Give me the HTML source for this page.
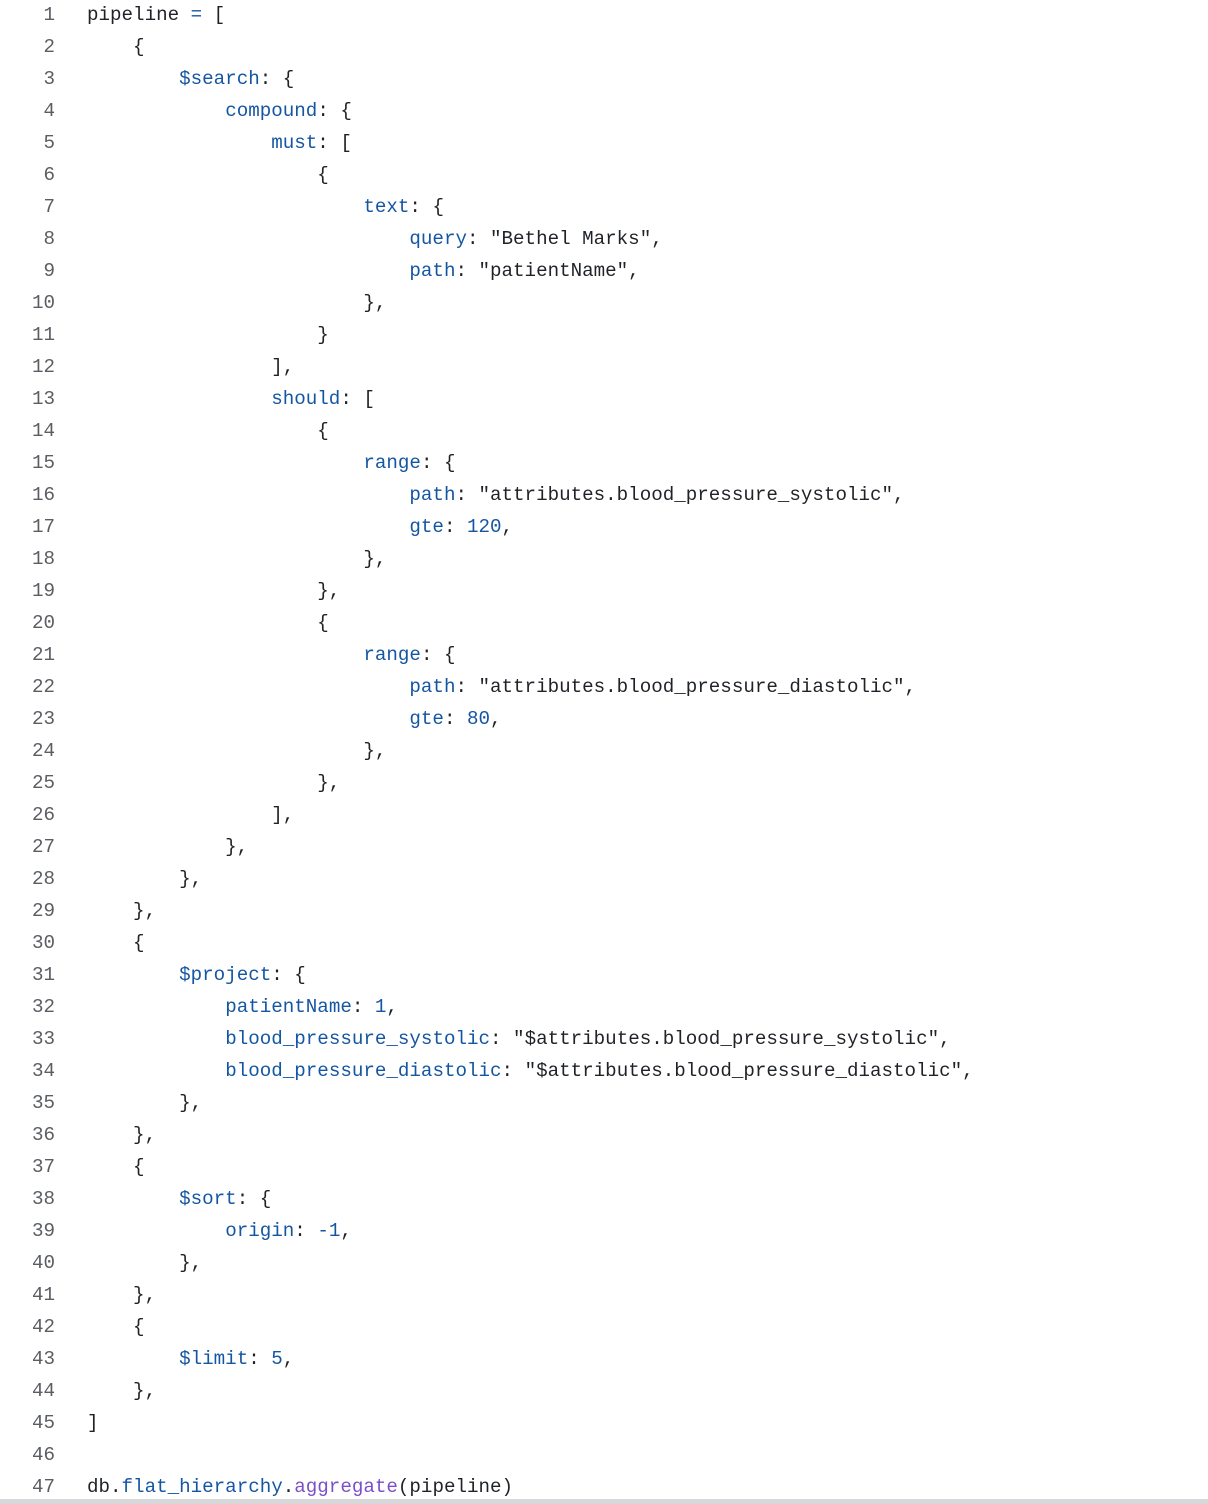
<!DOCTYPE html>
<html><head><meta charset="utf-8"><style>
html,body{margin:0;padding:0;background:#fff;width:1208px;height:1504px;overflow:hidden;position:relative}
.w{position:absolute;top:-1px;left:0;font-family:"Liberation Mono",monospace;font-size:19.2px;line-height:32px;color:#1f2328}
.l{height:32px;white-space:pre;position:relative}
.n{position:absolute;left:0;width:55px;text-align:right;color:#5a5e63}
.c{position:absolute;left:87px}
.k{color:#1556a3}.p{color:#7b4fc9}
.bar{position:absolute;left:0;top:1499px;width:1208px;height:5px;background:#d8d8da}
</style></head><body>
<div class="w">
<div class="l"><span class="n">1</span><span class="c">pipeline <span class="k">=</span> [</span></div>
<div class="l"><span class="n">2</span><span class="c">    {</span></div>
<div class="l"><span class="n">3</span><span class="c">        <span class="k">$search</span>: {</span></div>
<div class="l"><span class="n">4</span><span class="c">            <span class="k">compound</span>: {</span></div>
<div class="l"><span class="n">5</span><span class="c">                <span class="k">must</span>: [</span></div>
<div class="l"><span class="n">6</span><span class="c">                    {</span></div>
<div class="l"><span class="n">7</span><span class="c">                        <span class="k">text</span>: {</span></div>
<div class="l"><span class="n">8</span><span class="c">                            <span class="k">query</span>: "Bethel Marks",</span></div>
<div class="l"><span class="n">9</span><span class="c">                            <span class="k">path</span>: "patientName",</span></div>
<div class="l"><span class="n">10</span><span class="c">                        },</span></div>
<div class="l"><span class="n">11</span><span class="c">                    }</span></div>
<div class="l"><span class="n">12</span><span class="c">                ],</span></div>
<div class="l"><span class="n">13</span><span class="c">                <span class="k">should</span>: [</span></div>
<div class="l"><span class="n">14</span><span class="c">                    {</span></div>
<div class="l"><span class="n">15</span><span class="c">                        <span class="k">range</span>: {</span></div>
<div class="l"><span class="n">16</span><span class="c">                            <span class="k">path</span>: "attributes.blood_pressure_systolic",</span></div>
<div class="l"><span class="n">17</span><span class="c">                            <span class="k">gte</span>: <span class="k">120</span>,</span></div>
<div class="l"><span class="n">18</span><span class="c">                        },</span></div>
<div class="l"><span class="n">19</span><span class="c">                    },</span></div>
<div class="l"><span class="n">20</span><span class="c">                    {</span></div>
<div class="l"><span class="n">21</span><span class="c">                        <span class="k">range</span>: {</span></div>
<div class="l"><span class="n">22</span><span class="c">                            <span class="k">path</span>: "attributes.blood_pressure_diastolic",</span></div>
<div class="l"><span class="n">23</span><span class="c">                            <span class="k">gte</span>: <span class="k">80</span>,</span></div>
<div class="l"><span class="n">24</span><span class="c">                        },</span></div>
<div class="l"><span class="n">25</span><span class="c">                    },</span></div>
<div class="l"><span class="n">26</span><span class="c">                ],</span></div>
<div class="l"><span class="n">27</span><span class="c">            },</span></div>
<div class="l"><span class="n">28</span><span class="c">        },</span></div>
<div class="l"><span class="n">29</span><span class="c">    },</span></div>
<div class="l"><span class="n">30</span><span class="c">    {</span></div>
<div class="l"><span class="n">31</span><span class="c">        <span class="k">$project</span>: {</span></div>
<div class="l"><span class="n">32</span><span class="c">            <span class="k">patientName</span>: <span class="k">1</span>,</span></div>
<div class="l"><span class="n">33</span><span class="c">            <span class="k">blood_pressure_systolic</span>: "$attributes.blood_pressure_systolic",</span></div>
<div class="l"><span class="n">34</span><span class="c">            <span class="k">blood_pressure_diastolic</span>: "$attributes.blood_pressure_diastolic",</span></div>
<div class="l"><span class="n">35</span><span class="c">        },</span></div>
<div class="l"><span class="n">36</span><span class="c">    },</span></div>
<div class="l"><span class="n">37</span><span class="c">    {</span></div>
<div class="l"><span class="n">38</span><span class="c">        <span class="k">$sort</span>: {</span></div>
<div class="l"><span class="n">39</span><span class="c">            <span class="k">origin</span>: <span class="k">-1</span>,</span></div>
<div class="l"><span class="n">40</span><span class="c">        },</span></div>
<div class="l"><span class="n">41</span><span class="c">    },</span></div>
<div class="l"><span class="n">42</span><span class="c">    {</span></div>
<div class="l"><span class="n">43</span><span class="c">        <span class="k">$limit</span>: <span class="k">5</span>,</span></div>
<div class="l"><span class="n">44</span><span class="c">    },</span></div>
<div class="l"><span class="n">45</span><span class="c">]</span></div>
<div class="l"><span class="n">46</span><span class="c"></span></div>
<div class="l"><span class="n">47</span><span class="c">db.<span class="k">flat_hierarchy</span>.<span class="p">aggregate</span>(pipeline)</span></div>
</div>
<div class="bar"></div>
</body></html>
